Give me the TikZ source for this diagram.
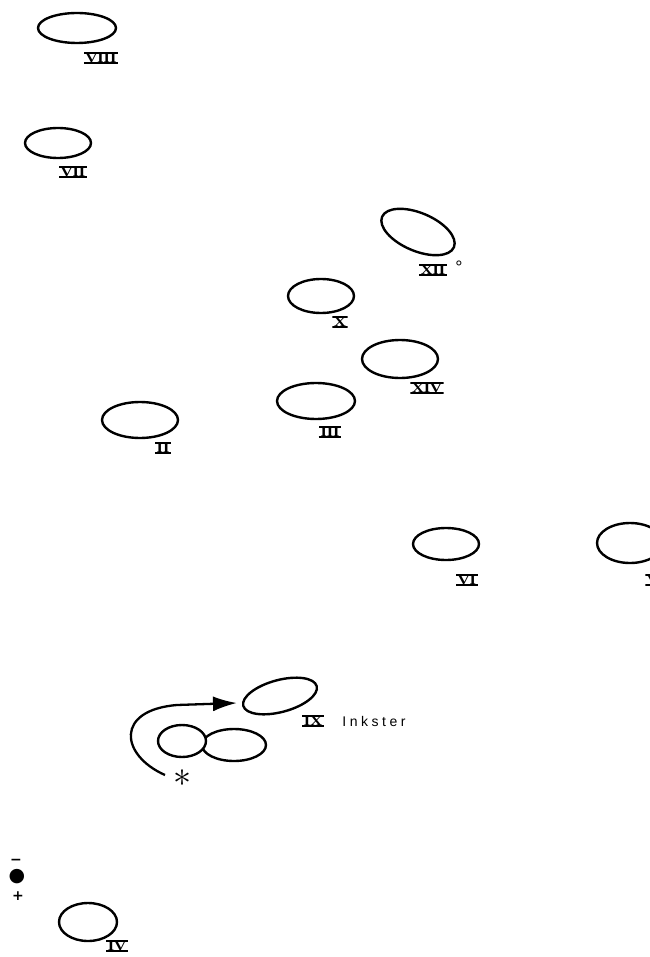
\documentclass[tikz,border=0pt]{standalone}
\usepackage{fontspec}
\newfontfamily\rnfam{Liberation Serif}
\newfontfamily\inkfam{Liberation Sans}
\newfontfamily\symfam{DejaVu Sans}
\usetikzlibrary{shapes.geometric,arrows.meta}
\newcommand\rnx[1]{\scalebox{1.25}[1]{#1}}
\tikzset{
  ring/.style={ellipse, draw, line width=2.4pt, inner sep=0pt, fill=white},
  rn/.style={inner xsep=1.8pt, inner ysep=0.9pt, text height=8.6pt, text depth=0pt,
    font=\rnfam\bfseries\fontsize{13}{13}\selectfont,
    path picture={\draw[line width=3.2pt]
      (path picture bounding box.north west) -- (path picture bounding box.north east)
      (path picture bounding box.south west) -- (path picture bounding box.south east);}},
  arr/.style={line width=2.3pt, -{Latex[length=24pt,width=15pt]}},
  sym/.style={inner sep=0pt, font=\symfam\bfseries}
}
\begin{document}
\begin{tikzpicture}[x=1pt,y=-1pt]
\useasboundingbox (0,0) rectangle (649,957);
% VIII
\node[ring, minimum width=78pt, minimum height=30pt] (n8) at (77,28) {};
\node[rn] (l8) at (101,58) {\rnx{VIII}};
% VII
\node[ring, minimum width=66pt, minimum height=30pt] (n7) at (58,143) {};
\node[rn] (l7) at (73,172) {\rnx{VII}};
% XII
\node[ring, minimum width=78pt, minimum height=38pt, rotate=-23] (n12) at (418,232) {};
\node[rn] (l12) at (433,270) {\rnx{XII}};
\node[inner sep=0pt, font=\inkfam\fontsize{18}{18}\selectfont] (deg) at (459,267) {°};
% X
\node[ring, minimum width=66pt, minimum height=34pt] (n10) at (321,296) {};
\node[rn] (l10) at (340,322) {\rnx{X}};
% XIV
\node[ring, minimum width=76pt, minimum height=38pt] (n14) at (400,359) {};
\node[rn] (l14) at (427,388) {\rnx{XIV}};
% III
\node[ring, minimum width=78pt, minimum height=36pt] (n3) at (316,401) {};
\node[rn] (l3) at (330,432) {\rnx{III}};
% II
\node[ring, minimum width=76pt, minimum height=36pt] (n2) at (140,420) {};
\node[rn] (l2) at (163,448) {\rnx{II}};
% VI
\node[ring, minimum width=66pt, minimum height=32pt] (n6) at (446,544) {};
\node[rn] (l6) at (467,580) {\rnx{VI}};
% V
\node[ring, minimum width=66pt, minimum height=40pt] (n5) at (630,543) {};
\node[rn] (l5) at (653,580) {\rnx{V}};
% IX
\node[ring, minimum width=76pt, minimum height=32pt, rotate=15] (n9) at (280,696) {};
\node[rn] (l9) at (313,721) {\rnx{IX}};
\node[inner sep=0pt, font=\inkfam\fontsize{14}{14}\selectfont] (ink) at (374,721)
  {I\hspace{3.5pt}n\hspace{3.5pt}k\hspace{3.5pt}s\hspace{3.5pt}t\hspace{3.5pt}e\hspace{3.5pt}r};
% pair
\node[ring, minimum width=64pt, minimum height=32pt] (pb) at (234,745) {};
\node[ring, minimum width=48pt, minimum height=32pt] (pa) at (182,741) {};
% arrow
\coordinate (as) at (165,775);
\coordinate (ae) at (237,703);
\draw[arr] (as) .. controls (120,755) and (115,710) .. (177,705) -- (ae);
\node[inner sep=0pt] (star) at (182,778) {\scalebox{3.6}{$\ast$}};
% IV
\node[ring, minimum width=58pt, minimum height=38pt] (n4) at (88,922) {};
\node[rn] (l4) at (117,946) {\rnx{IV}};
% legend
\node[sym, font=\symfam\bfseries\fontsize{14}{14}\selectfont] (minus) at (16,862) {−};
\node[sym, font=\symfam\fontsize{19}{19}\selectfont] (dot) at (17,877) {●};
\node[sym, font=\symfam\bfseries\fontsize{14}{14}\selectfont] (plus) at (18,896) {+};
\end{tikzpicture}
\end{document}
